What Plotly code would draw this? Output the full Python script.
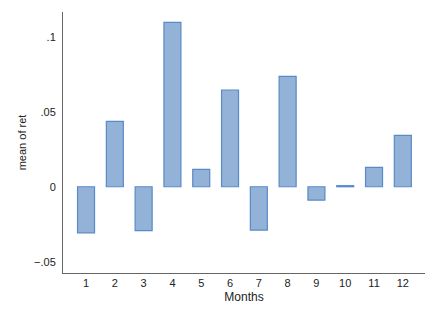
import plotly.graph_objects as go

months = [1, 2, 3, 4, 5, 6, 7, 8, 9, 10, 11, 12]
mean_ret = [-0.0307, 0.0436, -0.0293, 0.1096, 0.0116, 0.0645,
            -0.0289, 0.0736, -0.0089, 0.0007, 0.0129, 0.0343]
ytick_vals = [-0.05, 0, 0.05, 0.1]
ytick_text = ["\u2212.05", "0", ".05", ".1"]

fig = go.Figure(go.Bar(
    x=months, y=mean_ret, width=0.59,
    marker=dict(color="#92b2d7", line=dict(color="#5a8ac6", width=1.2)),
))
fig.update_layout(
    width=437, height=318,
    margin=dict(l=55, r=20, t=4, b=53),
    plot_bgcolor="white", paper_bgcolor="white",
    font=dict(family="Liberation Sans, Arial", size=11, color="#222"),
    showlegend=False,
)
fig.update_xaxes(
    range=[0.2, 12.77], tickvals=months, ticktext=[str(m) for m in months],
    showline=True, linecolor="#666", linewidth=1, showgrid=False, zeroline=False,
    ticks="", title=dict(text="Months", font=dict(size=12), standoff=4),
)
fig.update_yaxes(
    range=[-0.0575, 0.1165], tickvals=ytick_vals, ticktext=ytick_text,
    showline=True, linecolor="#666", linewidth=1, showgrid=False, zeroline=False,
    ticks="", ticklabelstandoff=4,
    title=dict(text="mean of ret", font=dict(size=11), standoff=5),
)
fig.write_html("out.html")
